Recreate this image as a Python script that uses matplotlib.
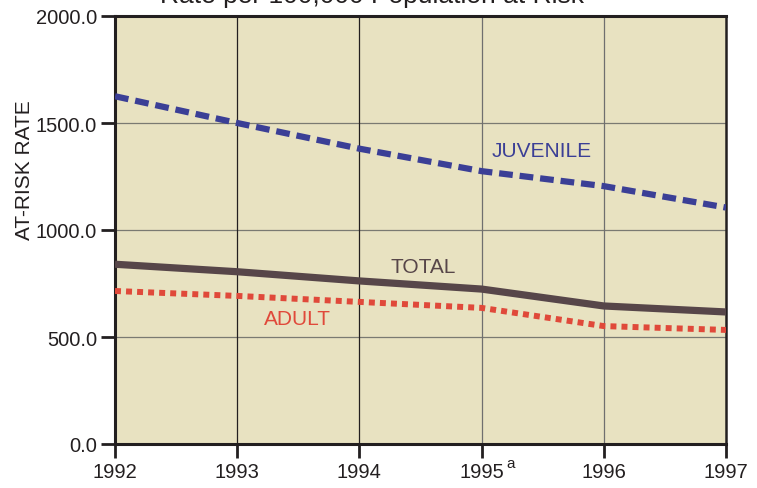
import matplotlib.pyplot as plt
from matplotlib import font_manager

years = [1992, 1993, 1994, 1995, 1996, 1997]
juvenile = [1625, 1500, 1380, 1275, 1205, 1105]
total = [840, 805, 762, 724, 645, 617]
adult = [715, 692, 664, 636, 551, 533]
yticks = [0, 500, 1000, 1500, 2000]
ytick_labels = ["0.0", "500.0", "1000.0", "1500.0", "2000.0"]

names = {f.name for f in font_manager.fontManager.ttflist}
fam = "Liberation Sans Narrow" if "Liberation Sans Narrow" in names else "Liberation Sans"
plt.rcParams['font.family'] = [fam, 'DejaVu Sans']

dark = '#231f20'
fig = plt.figure(figsize=(7.57, 4.89), dpi=100)
ax = fig.add_axes([115 / 757, 1 - 445 / 489, 611 / 757, 428 / 489])
ax.set_facecolor('#e8e2c1')

ax.plot(years, juvenile, color='#3b3f96', lw=4.5, dashes=(2.2, 1.1),
        dash_capstyle='butt', zorder=3)
ax.plot(years, total, color='#574649', lw=5.2, solid_capstyle='butt', zorder=3)
ax.plot(years, adult, color='#e0493a', lw=4.3, dashes=(1.0, 0.85),
        dash_capstyle='butt', zorder=3)

ax.set_xlim(1992, 1997)
ax.set_ylim(0, 2000)
ax.set_xticks(years)
ax.set_xticklabels([str(y) for y in years])
ax.set_yticks(yticks)
ax.set_yticklabels(ytick_labels)

for y in yticks[1:-1]:
    ax.axhline(y, color='#7a7a72', lw=0.9, zorder=1)
for x, c in zip(years[1:-1], [dark, dark, '#6f6f6f', '#6f6f6f']):
    ax.axvline(x, color=c, lw=0.9, zorder=1)

for s in ax.spines.values():
    s.set_color(dark)
    s.set_linewidth(2.2)
ax.spines['right'].set_linewidth(1.8)

ax.tick_params(axis='both', direction='out', length=10, width=2, color=dark,
               labelsize=14.5, labelcolor=dark, pad=3)

ax.annotate('a', xy=(1995, 0), xycoords=('data', 'axes fraction'),
            xytext=(29, -19), textcoords='offset pixels', fontsize=11,
            color=dark, ha='center', va='center')

ax.text(1995.49, 1370, 'JUVENILE', color='#3b3f96', fontsize=15, ha='center', va='center')
ax.text(1994.52, 830, 'TOTAL', color='#574649', fontsize=15, ha='center', va='center')
ax.text(1993.49, 585, 'ADULT', color='#e0493a', fontsize=15, ha='center', va='center')

fig.text(25 / 757, 1 - 170 / 489, 'AT-RISK RATE', rotation=90, fontsize=15,
         color=dark, ha='center', va='center')
fig.text(372 / 757, 1 - 3 / 489, 'Rate per 100,000 Population at Risk',
         fontsize=19, color=dark, ha='center', va='baseline')

fig.savefig('out.png', dpi=100)
